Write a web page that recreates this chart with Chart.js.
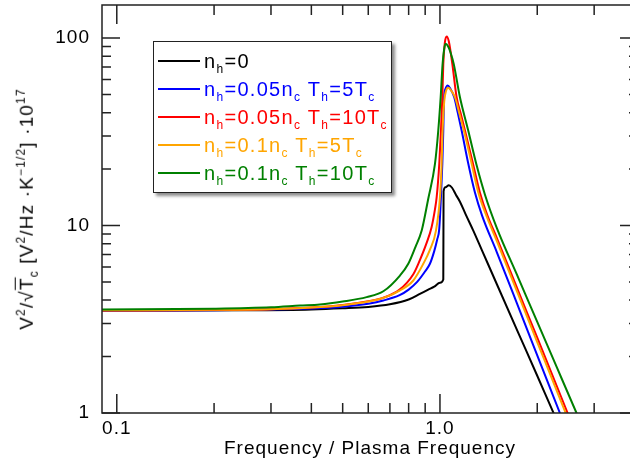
<!DOCTYPE html>
<html>
<head>
<meta charset="utf-8">
<script src="https://cdn.jsdelivr.net/npm/chart.js@4.4.1/dist/chart.umd.min.js"></script>
<style>
    body { margin: 0; overflow: hidden; background: #fff; font-family: 'Liberation Sans', Arial, sans-serif; }
    #wrap { position: relative; width: 660px; height: 467px; }
    #legend {
        position: absolute; left: 153px; top: 41px; width: 239px; height: 152px;
        box-sizing: border-box; border: 1.5px solid #222; background: #fff;
        box-shadow: 3px 3px 3px rgba(0, 0, 0, 0.45); padding-top: 5px;
    }
    .row { display: flex; align-items: center; height: 28px; font-size: 20px; letter-spacing: 1.3px; white-space: nowrap; }
    .swatch { width: 42px; height: 2px; margin-left: 4px; margin-right: 4px; }
    sub, sup { font-size: 12px; line-height: 0; position: relative; vertical-align: baseline; }
    sub { top: 5px; }
    sup { top: -8px; }
    #ytitle {
        position: absolute; left: -133px; top: 197px; height: 24px; line-height: 24px;
        transform: rotate(-90deg); font-size: 19px; white-space: nowrap;
    }
    .ov { text-decoration: overline; }
</style>
</head>
<body>
<div id="wrap">
    <canvas id="spectrumChart" width="660" height="467"></canvas>
    <div id="ytitle">V<sup>2</sup>/√<span class="ov">T</span><sub>c</sub> [V<sup>2</sup>/Hz ·K<sup>−1/2</sup>] ·10<sup>17</sup></div>
    <div id="legend"></div>
</div>
<script>
// ticks
const xMajorTicks = [0.1, 1];
const xTickText = ["0.1", "1.0"];
const xMinorTicks = [0.2, 0.3, 0.4, 0.5, 0.6, 0.7, 0.8, 0.9, 2, 3, 4];
const yMajorTicks = [1, 10, 100];
const yTickText = ["1", "10", "100"];
const yMinorTicks = [2, 3, 4, 5, 6, 7, 8, 9, 20, 30, 40, 50, 60, 70, 80, 90];

// n_h = 0
const freqBlack = [0.09, 0.15, 0.25, 0.4, 0.5, 0.6, 0.7, 0.8, 0.867, 0.92, 0.96, 1.0, 1.024, 1.026, 1.04, 1.065, 1.09, 1.12, 1.153, 1.2, 1.268, 1.35, 1.5, 1.75, 2.0, 2.24, 2.5];
const valBlack = [3.52, 3.52, 3.53, 3.57, 3.62, 3.68, 3.8, 4.03, 4.32, 4.55, 4.72, 4.95, 5.15, 15.2, 16.0, 16.4, 15.9, 14.6, 13.4, 11.5, 9.4, 7.35, 4.86, 2.66, 1.58, 1.01, 0.66];

// n_h = 0.05 n_c, T_h = 5 T_c
const freqBlue = [0.09, 0.2, 0.3, 0.4, 0.5, 0.6, 0.668, 0.75, 0.8, 0.85, 0.9, 0.931, 0.96, 0.98, 0.995, 1.007, 1.017, 1.024, 1.03, 1.04, 1.056, 1.075, 1.107, 1.135, 1.167, 1.22, 1.283, 1.35, 1.5, 1.75, 2.0, 2.35, 2.6];
const valBlue = [3.52, 3.53, 3.56, 3.61, 3.69, 3.83, 3.98, 4.25, 4.55, 5.0, 5.7, 6.25, 7.3, 8.4, 9.6, 14.2, 21.3, 32, 48.5, 53.5, 55.8, 54, 48.3, 40, 32.1, 21.9, 15.0, 11.3, 7.2, 3.66, 2.03, 1.0, 0.64];

// n_h = 0.05 n_c, T_h = 10 T_c
const freqRed = [0.09, 0.2, 0.3, 0.4, 0.5, 0.6, 0.668, 0.75, 0.827, 0.857, 0.91, 0.942, 0.965, 0.977, 0.995, 1.007, 1.017, 1.024, 1.035, 1.049, 1.065, 1.092, 1.126, 1.16, 1.195, 1.26, 1.329, 1.4, 1.5, 1.75, 2.0, 2.483, 2.75];
const valRed = [3.52, 3.54, 3.58, 3.65, 3.77, 3.95, 4.12, 4.55, 5.5, 6.25, 8.1, 9.8, 12.2, 14.2, 21.3, 32.1, 48.3, 72.8, 94, 101.9, 96, 72.8, 48.3, 39.4, 32.1, 22.0, 15.0, 11.4, 8.57, 4.44, 2.52, 1.0, 0.65];

// n_h = 0.1 n_c, T_h = 5 T_c
const freqOrange = [0.09, 0.2, 0.3, 0.4, 0.5, 0.6, 0.668, 0.75, 0.827, 0.888, 0.93, 0.972, 1.0, 1.012, 1.019, 1.031, 1.045, 1.061, 1.08, 1.113, 1.15, 1.186, 1.25, 1.314, 1.4, 1.5, 1.75, 2.0, 2.449, 2.7];
const valOrange = [3.53, 3.55, 3.58, 3.65, 3.76, 3.93, 4.11, 4.5, 5.09, 6.25, 7.4, 9.4, 14.2, 21.3, 32.1, 46, 52.5, 54.3, 52.8, 48.3, 39.2, 32.1, 21.8, 15.0, 11.0, 8.26, 4.25, 2.39, 1.0, 0.66];

// n_h = 0.1 n_c, T_h = 10 T_c
const freqGreen = [0.09, 0.2, 0.3, 0.369, 0.425, 0.5, 0.593, 0.668, 0.752, 0.798, 0.84, 0.878, 0.92, 0.965, 0.988, 1.005, 1.019, 1.03, 1.041, 1.06, 1.08, 1.103, 1.153, 1.223, 1.298, 1.378, 1.5, 1.75, 2.0, 2.3, 2.645, 2.9];
const valGreen = [3.57, 3.6, 3.66, 3.74, 3.79, 3.93, 4.15, 4.46, 5.41, 6.25, 7.7, 9.4, 13.9, 21.3, 32.1, 48.3, 72.8, 87, 93.1, 90, 83, 72.8, 48.3, 32.1, 21.0, 14.6, 9.69, 5.23, 3.06, 1.75, 1.0, 0.69];

const seriesNames = ["n_h=0", "n_h=0.05n_c T_h=5T_c", "n_h=0.05n_c T_h=10T_c", "n_h=0.1n_c T_h=5T_c", "n_h=0.1n_c T_h=10T_c"];
const seriesLabels = [
    "n<sub>h</sub>=0",
    "n<sub>h</sub>=0.05n<sub>c</sub> T<sub>h</sub>=5T<sub>c</sub>",
    "n<sub>h</sub>=0.05n<sub>c</sub> T<sub>h</sub>=10T<sub>c</sub>",
    "n<sub>h</sub>=0.1n<sub>c</sub> T<sub>h</sub>=5T<sub>c</sub>",
    "n<sub>h</sub>=0.1n<sub>c</sub> T<sub>h</sub>=10T<sub>c</sub>"
];
const seriesColors = ["#000000", "#0000ff", "#ff0000", "#ffa500", "#008000"];
const seriesFreqs = [freqBlack, freqBlue, freqRed, freqOrange, freqGreen];
const seriesVals = [valBlack, valBlue, valRed, valOrange, valGreen];

Chart.defaults.font.family = "'Liberation Sans', Arial, sans-serif";
Chart.defaults.font.size = 19;
Chart.defaults.color = "#000";

var datasets = seriesNames.map((name, i) => ({
    label: name,
    data: seriesFreqs[i].map((f, j) => ({ x: f, y: seriesVals[i][j] })),
    borderColor: seriesColors[i],
    borderWidth: 2,
    pointRadius: 0,
    cubicInterpolationMode: 'monotone',
    order: seriesNames.length - 1 - i // green drawn last
}));

// html legend, so the subscripts work
const htmlLegend = {
    id: 'htmlLegend',
    afterUpdate(chart) {
        let html = "";
        chart.data.datasets.forEach((ds, i) => {
            html += `<div class="row" style="color:${ds.borderColor}"><div class="swatch" style="background:${ds.borderColor}"></div><span>${seriesLabels[i]}</span></div>`;
        });
        document.getElementById("legend").innerHTML = html;
    }
};

// rotated y title (html for the sub/superscripts), stretched to ~242px and centred on the plot
const yTitle = {
    id: 'yTitle',
    afterUpdate(chart) {
        const el = document.getElementById("ytitle");
        const a = chart.chartArea;
        el.style.letterSpacing = "0px";
        const w0 = el.offsetWidth;
        el.style.letterSpacing = ((242 - w0) / el.textContent.length) + "px";
        const w = el.offsetWidth;
        const h = el.offsetHeight;
        el.style.left = (27 - w / 2) + "px";
        el.style.top = ((a.top + a.bottom) / 2 - h / 2) + "px";
    }
};

const spacing = {
    id: 'spacing',
    beforeDraw(chart) {
        chart.ctx.letterSpacing = "1px";
    }
};

// frame plus inward tick marks on all four sides
const frameTicks = {
    id: 'frameTicks',
    afterDraw(chart) {
        const ctx = chart.ctx;
        const a = chart.chartArea;
        const x = chart.scales.x;
        const y = chart.scales.y;
        ctx.save();
        ctx.strokeStyle = "#222";
        ctx.lineWidth = 1.5;
        ctx.strokeRect(a.left, a.top, a.right - a.left, a.bottom - a.top);
        ctx.beginPath();
        const xTick = (v, len) => {
            const px = x.getPixelForValue(v);
            ctx.moveTo(px, a.bottom); ctx.lineTo(px, a.bottom - len);
            ctx.moveTo(px, a.top); ctx.lineTo(px, a.top + len);
        };
        const yTick = (v, len) => {
            const py = y.getPixelForValue(v);
            ctx.moveTo(a.left, py); ctx.lineTo(a.left + len, py);
            ctx.moveTo(a.right, py); ctx.lineTo(a.right - len, py);
        };
        xMajorTicks.forEach(v => xTick(v, 19));
        xMinorTicks.forEach(v => xTick(v, 10));
        yMajorTicks.forEach(v => yTick(v, 18));
        yMinorTicks.forEach(v => yTick(v, 9));
        ctx.stroke();
        ctx.restore();
    }
};

const ctx = document.getElementById('spectrumChart');
var spectrumChart = new Chart(ctx, {
    type: 'line',
    data: { datasets: datasets },
    options: {
        responsive: false,
        animation: false,
        layout: { padding: { top: 5, right: 22, left: 0, bottom: 0 } },
        plugins: { legend: { display: false }, tooltip: { enabled: false } },
        scales: {
            x: {
                type: 'logarithmic',
                min: 0.09,
                max: 4.1,
                grid: { display: false, drawTicks: false },
                border: { display: false },
                afterBuildTicks: (s) => { s.ticks = xMajorTicks.map(v => ({ value: v })); },
                afterFit: (s) => { s.height = 54; s.paddingLeft = 0; s.paddingRight = 0; },
                ticks: {
                    autoSkip: false,
                    maxRotation: 0,
                    padding: 4,
                    callback: (v, i) => xTickText[i]
                },
                title: {
                    display: true,
                    text: 'Frequency / Plasma Frequency',
                    padding: { top: 2, bottom: 7 }
                }
            },
            y: {
                type: 'logarithmic',
                min: 1,
                max: 150,
                grid: { display: false, drawTicks: false },
                border: { display: false },
                afterBuildTicks: (s) => { s.ticks = yMajorTicks.map(v => ({ value: v })); },
                afterFit: (s) => { s.width = 102; s.paddingTop = 0; s.paddingBottom = 0; },
                ticks: {
                    autoSkip: false,
                    padding: 12,
                    callback: (v, i) => yTickText[i]
                }
            }
        }
    },
    plugins: [htmlLegend, yTitle, spacing, frameTicks]
});
</script>
</body>
</html>
